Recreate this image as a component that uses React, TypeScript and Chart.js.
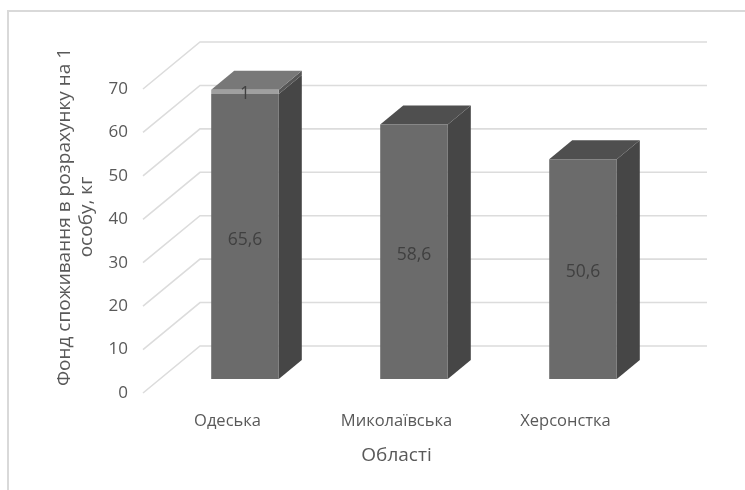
import React, { useEffect, useRef } from "react";
import { Chart, registerables } from "chart.js";

Chart.register(...registerables);

const categories = ["Одеська", "Миколаївська", "Херсонстка"];
const mainValues = [65.6, 58.6, 50.6];
const upperValues = [1, null, null];
const mainLabels = ["65,6", "58,6", "50,6"];
const upperLabels = ["1", "", ""];
const yTicks = [0, 10, 20, 30, 40, 50, 60, 70];
const yTitleLines = ["Фонд споживання в розрахунку на 1", "особу, кг"];
const xTitle = "Області";

const FONT = '"Open Sans", "Noto Sans", sans-serif';
const GRID = "#dcdcdc";
const TEXT = "#595959";
const SHIFT_X = 17.5;
const SHIFT_Y = -14;
const DEPTH_X = 23;
const DEPTH_Y = 19;
const BACK_X = 57;
const BACK_Y = 47;

const faces = [
  { top: "#4f4f4f", side: "#464646", topAlt: "#787878" },
  { top: "#787878", side: "#565656", topAlt: "#787878" },
];

const poly = (ctx: CanvasRenderingContext2D, pts: number[][], fill: string) => {
  ctx.beginPath();
  pts.forEach(([x, y], i) => (i ? ctx.lineTo(x, y) : ctx.moveTo(x, y)));
  ctx.closePath();
  ctx.fillStyle = fill;
  ctx.fill();
};

const scene = {
  id: "scene",
  beforeDatasetsDraw(chart: any) {
    const { ctx, scales, chartArea } = chart;
    ctx.save();
    // frame of the picture
    ctx.strokeStyle = "#d9d9d9";
    ctx.lineWidth = 2;
    ctx.beginPath();
    ctx.moveTo(8, 490);
    ctx.lineTo(8, 11);
    ctx.lineTo(745, 11);
    ctx.stroke();
    // floor/wall grid
    ctx.strokeStyle = GRID;
    ctx.lineWidth = 1.6;
    yTicks.forEach((v) => {
      const y = scales.y.getPixelForValue(v);
      ctx.beginPath();
      ctx.moveTo(chartArea.left, y);
      ctx.lineTo(chartArea.left + BACK_X, y - BACK_Y);
      ctx.lineTo(chartArea.right + BACK_X, y - BACK_Y);
      ctx.stroke();
    });
    // rotated two-line value axis title
    ctx.fillStyle = TEXT;
    ctx.font = `19px ${FONT}`;
    ctx.textAlign = "center";
    ctx.textBaseline = "middle";
    yTitleLines.forEach((line, i) => {
      ctx.save();
      ctx.translate(65 + i * 22, 217);
      ctx.rotate(-Math.PI / 2);
      ctx.fillText(line, 0, 0);
      ctx.restore();
    });
    ctx.restore();
    // bars stand part-way into the depth of the box
    ctx.save();
    ctx.translate(SHIFT_X, SHIFT_Y);
    chart.data.datasets.forEach((ds: any, di: number) => {
      chart.getDatasetMeta(di).data.forEach((el: any, i: number) => {
        if (ds.data[i] == null) return;
        const l = el.x - el.width / 2;
        const r = el.x + el.width / 2;
        poly(ctx, [[r, el.y], [r + DEPTH_X, el.y - DEPTH_Y], [r + DEPTH_X, el.base - DEPTH_Y], [r, el.base]], faces[di].side);
        const isTop = di === 1 || upperValues[i] == null;
        if (isTop) {
          const top = upperValues[i] != null ? faces[0].topAlt : faces[di].top;
          poly(ctx, [[l, el.y], [l + DEPTH_X, el.y - DEPTH_Y], [r + DEPTH_X, el.y - DEPTH_Y], [r, el.y]], top);
        }
      });
    });
  },
  afterDatasetsDraw(chart: any) {
    const { ctx } = chart;
    ctx.fillStyle = "#404040";
    ctx.font = `17.5px ${FONT}`;
    ctx.textAlign = "center";
    ctx.textBaseline = "middle";
    [mainLabels, upperLabels].forEach((labels, di) => {
      chart.getDatasetMeta(di).data.forEach((el: any, i: number) => {
        if (labels[i]) ctx.fillText(labels[i], el.x, (el.y + el.base) / 2 + (di === 0 ? 3 : 2));
      });
    });
    ctx.restore();
  },
};

export default function App() {
  const ref = useRef<HTMLCanvasElement>(null);
  useEffect(() => {
    document.body.style.margin = "0";
    document.body.style.background = "#fff";
    const chart = new Chart(ref.current!, {
      type: "bar",
      data: {
        labels: categories,
        datasets: [
          { data: mainValues, backgroundColor: "#6b6b6b", stack: "a", barPercentage: 1, categoryPercentage: 0.4 },
          { data: upperValues, backgroundColor: "#a0a0a0", stack: "a", barPercentage: 1, categoryPercentage: 0.4 },
        ],
      } as any,
      options: {
        responsive: false,
        animation: false,
        devicePixelRatio: 1,
        layout: { padding: { top: 89, right: 95, left: 0, bottom: 0 } },
        plugins: { legend: { display: false }, tooltip: { enabled: false }, title: { display: false } },
        scales: {
          x: {
            stacked: true,
            grid: { display: false, drawTicks: false },
            border: { display: false },
            ticks: { color: TEXT, font: { family: FONT, size: 16.5 }, padding: 18, maxRotation: 0 },
            title: { display: true, text: xTitle, color: TEXT, font: { family: FONT, size: 19 }, padding: { top: 0, bottom: 23 } },
            afterFit: (s: any) => { s.height = 97; },
          },
          y: {
            stacked: true,
            min: 0,
            max: 70,
            grid: { display: false, drawTicks: false },
            border: { display: false },
            ticks: { color: TEXT, font: { family: FONT, size: 17 }, stepSize: 10, padding: 15 },
            afterFit: (s: any) => { s.width = 143; },
          },
        },
      } as any,
      plugins: [scene],
    });
    return () => chart.destroy();
  }, []);
  return <canvas ref={ref} width={745} height={490} style={{ display: "block" }} />;
}
